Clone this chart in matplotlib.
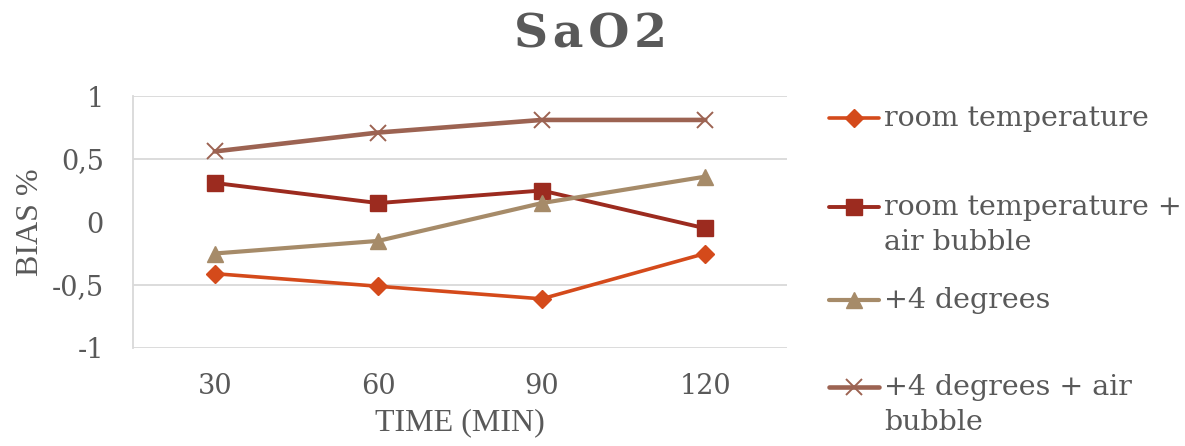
import matplotlib
matplotlib.use("Agg")
import matplotlib.pyplot as plt
from matplotlib.lines import Line2D

# Data
times = ["30", "60", "90", "120"]
series_names = [
    "room temperature",
    "room temperature +\nair bubble",
    "+4 degrees",
    "+4 degrees + air\nbubble",
]
room_temp = [-0.41, -0.51, -0.61, -0.25]
room_temp_air = [0.31, 0.15, 0.25, -0.05]
plus4 = [-0.25, -0.15, 0.15, 0.36]
plus4_air = [0.56, 0.71, 0.81, 0.81]
y_ticks = [-1, -0.5, 0, 0.5, 1]
y_tick_labels = ["-1", "-0,5", "0", "0,5", "1"]

values = [room_temp, room_temp_air, plus4, plus4_air]
colors = ["#D44A1B", "#9C2B1F", "#A68B69", "#9C6352"]
markers = ["D", "s", "^", "x"]
msizes = [9, 11, 11, 11]
mews = [1, 1, 1, 1.4]
lws = [2.6, 2.8, 3.0, 3.3]

TEXT = "#595959"
GRID = "#D9D9D9"
W, H = 1185, 446

fig = plt.figure(figsize=(W / 100, H / 100), dpi=100)
ax = fig.add_axes([133 / W, (H - 348) / H, (787 - 133) / W, (348 - 96) / H])

x = list(range(len(times)))
for vals, c, m, ms, mew, lw in zip(values, colors, markers, msizes, mews, lws):
    ax.plot(x, vals, color=c, lw=lw, marker=m, ms=ms, mfc=c, mec=c, mew=mew,
            solid_capstyle="round", zorder=3)

ax.set_xlim(-0.5, len(times) - 0.5)
ax.set_ylim(-1, 1)
ax.set_xticks(x)
ax.set_xticklabels(times)
ax.set_yticks(y_ticks)
ax.set_yticklabels(y_tick_labels)

for yv in [-1, -0.5, 0.5, 1]:
    ax.axhline(yv, color=GRID, lw=1.3, zorder=1)

for s in ["top", "right", "bottom"]:
    ax.spines[s].set_visible(False)
ax.spines["left"].set_color(GRID)
ax.spines["left"].set_linewidth(1.3)
ax.tick_params(length=0, colors=TEXT, labelsize=19.5)
for lab in ax.get_xticklabels() + ax.get_yticklabels():
    lab.set_fontfamily("DejaVu Serif")
ax.tick_params(axis="x", pad=18)
ax.tick_params(axis="y", pad=21)

ax.set_xlabel("TIME (MIN)", fontsize=23, color=TEXT, family="Liberation Serif", labelpad=6)
ax.set_ylabel("BIAS %", fontsize=23, color=TEXT, family="Liberation Serif", labelpad=5)

fig.text(590 / W, 1 - 34 / H, "S\u200aa\u200aO\u200a2", ha="center", va="center",
         fontsize=34, fontweight="bold", color=TEXT, family="DejaVu Serif")

# Legend drawn at fixed figure positions
legend_y = [118, 207, 300, 387]
for name, c, m, ms, mew, lw, yp in zip(series_names, colors, markers, msizes, mews, lws, legend_y):
    yf = 1 - yp / H
    fig.add_artist(Line2D([829 / W, 879 / W], [yf, yf], transform=fig.transFigure,
                          color=c, lw=lw, solid_capstyle="round"))
    fig.add_artist(Line2D([854 / W], [yf], transform=fig.transFigure, color=c,
                          marker=m, ms=ms, mfc=c, mec=c, mew=mew, lw=0))
    fig.text(884 / W, yf + 0.030, name, ha="left", va="top", fontsize=20.5,
             color=TEXT, family="DejaVu Serif", linespacing=1.42,
             transform=fig.transFigure)

fig.savefig("out.png", dpi=100, facecolor="white")
